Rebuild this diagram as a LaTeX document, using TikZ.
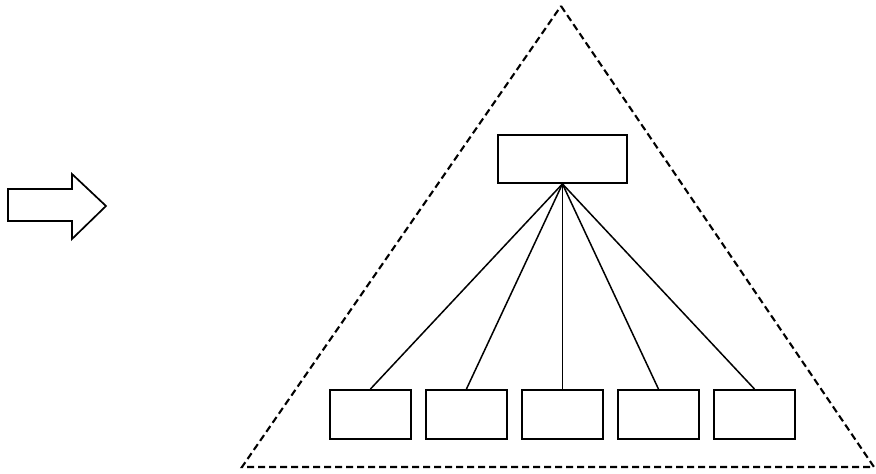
\documentclass[tikz,border=0pt]{standalone}
\begin{document}
\begin{tikzpicture}[x=1pt,y=-1pt,
  box/.style={draw,line width=1.9pt,minimum width=81pt,minimum height=49pt,inner sep=0pt,anchor=north west},
  link/.style={line width=1.5pt},
  tri/.style={line width=2.1pt,dash pattern=on 7pt off 4pt}]
\useasboundingbox (0,0) rectangle (876,474);
% arrow
\draw[line width=1.7pt] (8,189) -- (72,189) -- (72,174) -- (106,206) -- (72,239) -- (72,221) -- (8,221) -- cycle;
% triangle
\coordinate (apex) at (561,6);
\coordinate (bl) at (242,467);
\coordinate (br) at (874,467);
\draw[tri] (apex) -- (br) -- (bl) -- cycle;
% top box
\node[box,minimum width=129pt,minimum height=48pt] (top) at (497,134) {};
% bottom boxes
\foreach \i/\x in {1/329,2/425,3/521,4/617,5/713}{
  \node[box] (b\i) at (\x,389) {};
  \draw[link] (top.south) -- (b\i.north);
}
\end{tikzpicture}
\end{document}
